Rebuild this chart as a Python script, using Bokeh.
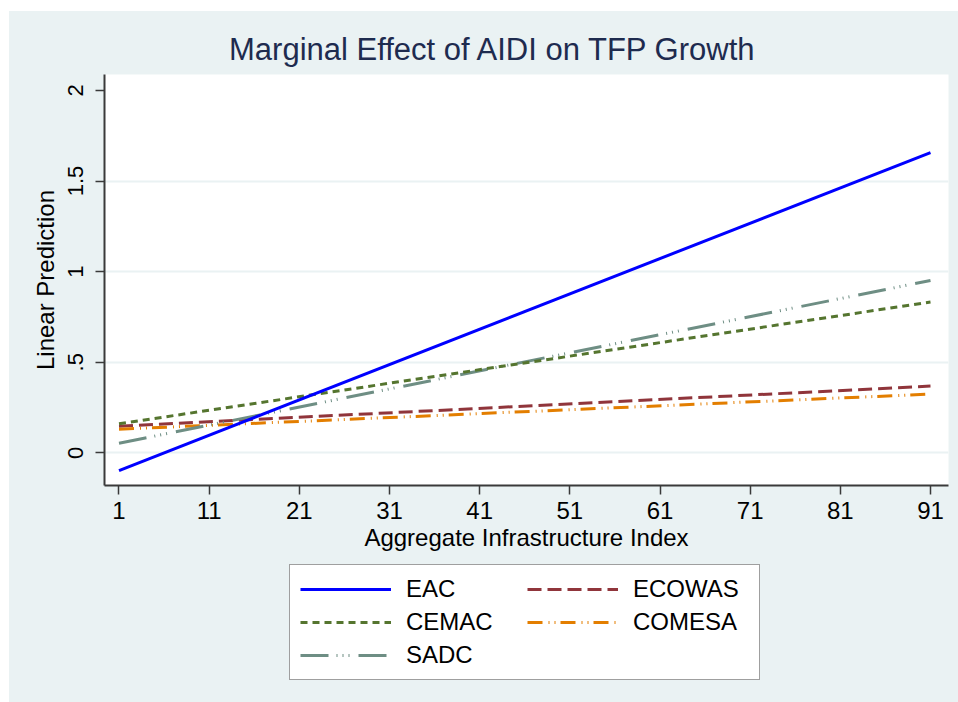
from bokeh.plotting import figure
from bokeh.layouts import column
from bokeh.models import (ColumnDataSource, Range1d, FixedTicker, Legend, LegendItem)
from bokeh.embed import file_html
from bokeh.resources import INLINE

# ---- data ----
x_vals = [1, 91]
eac = [-0.098, 1.657]
ecowas = [0.147, 0.368]
cemac = [0.160, 0.832]
comesa = [0.130, 0.324]
sadc = [0.053, 0.951]

x_ticks = [1, 11, 21, 31, 41, 51, 61, 71, 81, 91]
y_ticks = [0, 0.5, 1, 1.5, 2]
y_tick_labels = ["0", ".5", "1", "1.5", "2"]
y_grid = [0, 0.5, 1, 1.5]

series_names = ["EAC", "ECOWAS", "CEMAC", "COMESA", "SADC"]

title_text = "Marginal Effect of AIDI on TFP Growth"
x_title = "Aggregate Infrastructure Index"
y_title = "Linear Prediction"

BG = "#EAF2F3"
FONT = "Liberation Sans"

styles = {
    "EAC":    dict(line_color="#0000FF", line_width=3, line_dash="solid"),
    "ECOWAS": dict(line_color="#90353B", line_width=3, line_dash="14 6"),
    "CEMAC":  dict(line_color="#55752F", line_width=3, line_dash="7 5"),
    "COMESA": dict(line_color="#E37E00", line_width=3, line_dash="15 6 1 5 1 5"),
    "SADC":   dict(line_color="#6E8E84", line_width=3, line_dash="28 8 1 5 1 5 1 9"),
}

src = ColumnDataSource(dict(x=x_vals, EAC=eac, ECOWAS=ecowas, CEMAC=cemac,
                            COMESA=comesa, SADC=sadc))

# ---------------- main plot ----------------
p = figure(width=949, height=551, output_backend="svg", toolbar_location=None,
           x_range=Range1d(-0.608, 92.996), y_range=Range1d(-0.1806, 2.088),
           min_border_left=95, min_border_right=10, min_border_top=63,
           min_border_bottom=77)
p.background_fill_color = "white"
p.border_fill_color = BG
p.outline_line_color = None

p.title.text = title_text
p.title.text_font = FONT
p.title.text_font_size = "31px"
p.title.text_font_style = "normal"
p.title.text_color = "#1E2B4F"
p.title.align = "left"
p.title.offset = 124.5
p.title.standoff = 16

xa = p.xaxis[0]
xa.ticker = FixedTicker(ticks=x_ticks)
xa.axis_label = x_title
ya = p.yaxis[0]
ya.ticker = FixedTicker(ticks=y_ticks)
ya.major_label_overrides = {t: l for t, l in zip(y_ticks, y_tick_labels)}
ya.axis_label = y_title
ya.major_label_orientation = "parallel"

for ax in (xa, ya):
    ax.axis_line_color = "#3A3A3A"
    ax.axis_line_width = 2
    ax.major_tick_line_color = "#3A3A3A"
    ax.major_tick_line_width = 1.5
    ax.major_tick_out = 9
    ax.major_tick_in = 0
    ax.minor_tick_line_color = None
    ax.axis_label_text_font = FONT
    ax.axis_label_text_font_style = "normal"
    ax.axis_label_text_font_size = "24px"
    ax.axis_label_text_color = "black"
    ax.major_label_text_font = FONT
    ax.major_label_text_color = "black"

xa.major_label_text_font_size = "24px"
xa.major_label_standoff = 7
xa.axis_label_standoff = 2
ya.major_label_text_font_size = "22px"
ya.major_label_standoff = 12
ya.axis_label_standoff = 7

p.xgrid.grid_line_color = None
p.ygrid.ticker = FixedTicker(ticks=y_grid)
p.ygrid.grid_line_color = BG
p.ygrid.grid_line_width = 2

draw_order = ["ECOWAS", "COMESA", "SADC", "CEMAC", "EAC"]
for name in draw_order:
    p.line("x", name, source=src, **styles[name])

# ---------------- legend strip ----------------
q = figure(width=949, height=140, output_backend="svg", toolbar_location=None,
           x_axis_type=None, y_axis_type=None,
           x_range=Range1d(200, 300), y_range=Range1d(200, 300), min_border=0)
q.background_fill_color = BG
q.border_fill_color = BG
q.outline_line_color = None

proxies = {}
for name in series_names:
    proxies[name] = q.line("x", name, source=src, **styles[name])

legend = Legend(items=[LegendItem(label=n, renderers=[proxies[n]]) for n in series_names],
                location=(185, 22.5), orientation="horizontal", ncols=2)
legend.label_text_font = FONT
legend.label_text_font_size = "24px"
legend.label_text_color = "black"
legend.glyph_width = 91
legend.glyph_height = 24
legend.label_height = 24
legend.label_width = 116
legend.label_standoff = 15
legend.spacing = 5
legend.padding = 10
legend.border_line_color = "#404040"
legend.border_line_width = 1.5
legend.background_fill_color = "white"
legend.background_fill_alpha = 1
q.add_layout(legend, "center")

layout = column(p, q, spacing=0, margin=(11, 0, 0, 9),
                styles={"background-color": BG})
open("out.html", "w").write(file_html(layout, INLINE))
